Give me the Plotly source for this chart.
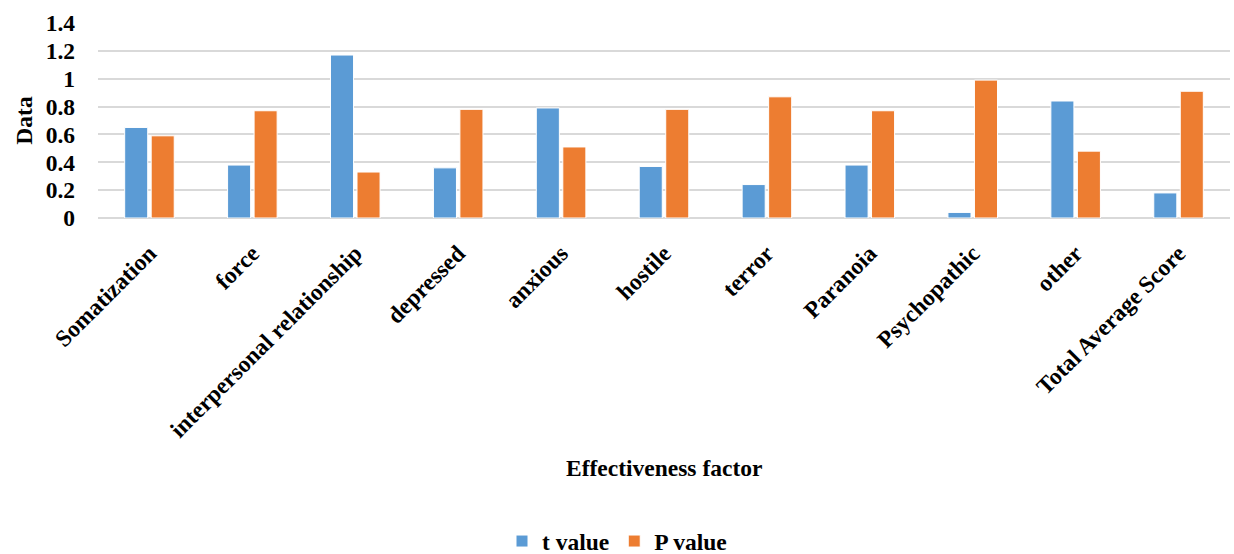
import plotly.graph_objects as go

# Factor categories and the two statistics for each
categories = [
    "Somatization", "force", "interpersonal relationship", "depressed",
    "anxious", "hostile", "terror", "Paranoia", "Psychopathic", "other",
    "Total Average Score",
]
t_values = [0.65, 0.38, 1.17, 0.36, 0.79, 0.37, 0.24, 0.38, 0.04, 0.84, 0.18]
p_values = [0.59, 0.77, 0.33, 0.78, 0.51, 0.78, 0.87, 0.77, 0.99, 0.48, 0.91]
y_ticks = [0, 0.2, 0.4, 0.6, 0.8, 1, 1.2, 1.4]
y_tick_text = ["0", "0.2", "0.4", "0.6", "0.8", "1", "1.2", "1.4"]

FONT = "Liberation Serif"
SIZE = 23.5
BLUE = "#5B9BD5"
ORANGE = "#ED7D31"


def bold(size=SIZE):
    return dict(family=FONT, size=size, color="black", weight="bold")


fig = go.Figure()
fig.add_trace(go.Bar(
    name="t value", x=categories, y=t_values,
    marker=dict(color=BLUE, line=dict(color="white", width=1)),
))
fig.add_trace(go.Bar(
    name="P value", x=categories, y=p_values,
    marker=dict(color=ORANGE, line=dict(color="white", width=1)),
))

fig.update_layout(
    width=1234, height=554,
    margin=dict(l=98, r=4, t=23, b=336),
    paper_bgcolor="white", plot_bgcolor="white",
    barmode="group", bargap=0.485, bargroupgap=0.13,
    font=bold(),
    showlegend=True,
    legend=dict(
        orientation="h", xref="container", yref="container",
        x=0.5, y=0.023, xanchor="center", yanchor="middle",
        font=bold(), itemwidth=30, tracegroupgap=0,
    ),
    xaxis=dict(
        tickangle=-45, showgrid=False, ticks="",
        showline=False, ticklabelstandoff=16,
        tickfont=bold(),
    ),
    yaxis=dict(
        range=[0, 1.4], tickvals=y_ticks, ticktext=y_tick_text,
        showgrid=True, gridcolor="#D9D9D9", gridwidth=1.5,
        zeroline=True, zerolinecolor="#D9D9D9", zerolinewidth=1.5,
        ticks="", showline=False, ticklabelstandoff=22,
        tickfont=bold(),
        title=dict(text="Data", standoff=6, font=bold()),
    ),
    annotations=[dict(
        text="Effectiveness factor", xref="paper", yref="paper",
        x=0.5, y=-(468 - 218) / 195, xanchor="center", yanchor="middle",
        showarrow=False, font=bold(),
    )],
)

fig.write_html("out.html")
